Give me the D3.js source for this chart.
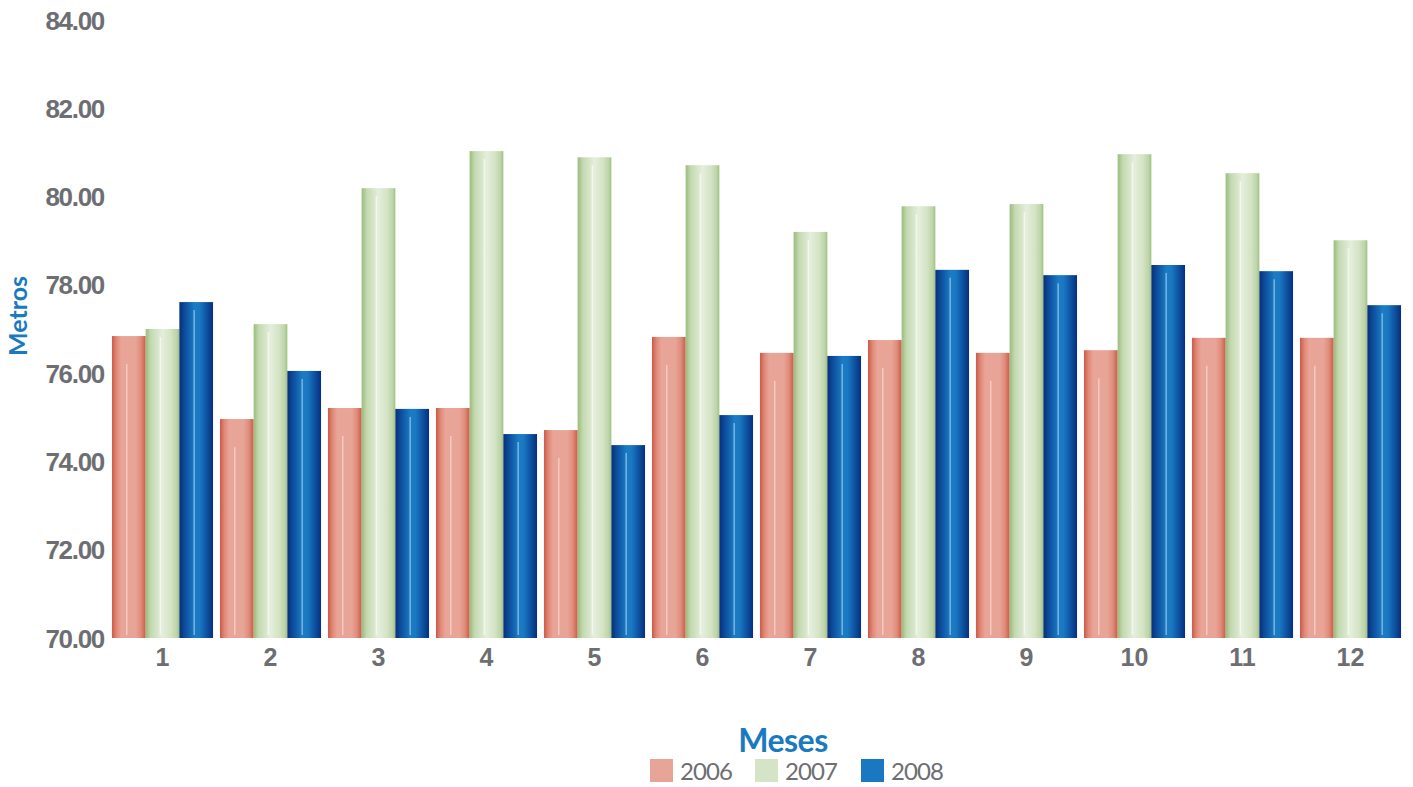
<!DOCTYPE html>
<html>
<head>
<meta charset="utf-8">
<script src="https://cdn.jsdelivr.net/npm/d3@7"></script>
<style>
  html, body { margin: 0; padding: 0; background: #fff; }
  svg { display: block; font-family: Lato, "Open Sans", sans-serif; }
</style>
</head>
<body>
<svg id="chart" width="1413" height="787"></svg>
<script>
const months = ["1","2","3","4","5","6","7","8","9","10","11","12"];
const seriesNames = ["2006","2007","2008"];
const values2006 = [76.84, 74.96, 75.21, 75.21, 74.71, 76.82, 76.46, 76.75, 76.46, 76.52, 76.80, 76.80];
const values2007 = [77.00, 77.11, 80.19, 81.03, 80.89, 80.71, 79.20, 79.78, 79.83, 80.96, 80.53, 79.01];
const values2008 = [77.61, 76.05, 75.19, 74.62, 74.37, 75.05, 76.39, 78.34, 78.22, 78.45, 78.31, 77.54];
const yTicks = [70, 72, 74, 76, 78, 80, 82, 84];

const seriesValues = [values2006, values2007, values2008];
const legendColors = ["#e8a597", "#d5e4c6", "#1a78c2"];
const gradStops = [
  [["0%","#cc5a46"],["14%","#e08a79"],["28%","#e8a597"],["70%","#e8a597"],["86%","#de8c7b"],["100%","#cb5b47"]],
  [["0%","#99bb7b"],["15%","#c3d9b0"],["35%","#d6e5c8"],["50%","#e4eedb"],["75%","#d4e3c5"],["92%","#bcd4a6"],["100%","#9fbf83"]],
  [["0%","#07307c"],["18%","#0e4f9f"],["45%","#1a7cc4"],["60%","#1a78c2"],["85%","#0c4b9b"],["100%","#062f7b"]]
];

const svg = d3.select("#chart");
const defs = svg.append("defs");
gradStops.forEach((stops, i) => {
  const g = defs.append("linearGradient").attr("id", "g" + i)
    .attr("x1", "0%").attr("x2", "100%").attr("y1", "0%").attr("y2", "0%");
  stops.forEach(s => g.append("stop").attr("offset", s[0]).attr("stop-color", s[1]));
});

const x0 = d3.scaleBand().domain(months).range([108.5, 1404.5]).paddingInner(0.064).paddingOuter(0.032);
const x1 = d3.scaleBand().domain(seriesNames).range([0, x0.bandwidth()]);
const y = d3.scaleLinear().domain([70, 84]).range([638, 20]);

const gray = "#6d6e71";

// Y axis labels
const yAxis = d3.axisLeft(y).tickValues(yTicks).tickFormat(d3.format(".2f")).tickSize(0).tickPadding(0);
const yg = svg.append("g").attr("transform", "translate(104,0)").call(yAxis);
yg.select(".domain").remove();
yg.selectAll("text")
  .attr("fill", gray).attr("font-size", 26).attr("font-weight", 700)
  .attr("letter-spacing", -1.3).attr("dy", "0.35em");

// bars
const groups = svg.append("g").selectAll("g").data(months).join("g")
  .attr("transform", d => `translate(${x0(d)},0)`);

groups.each(function(m, mi) {
  const g = d3.select(this);
  seriesNames.forEach((s, si) => {
    const v = seriesValues[si][mi];
    const bx = x1(s), bw = x1.bandwidth();
    const top = y(v), bottom = y(70);
    g.append("rect").attr("x", bx).attr("y", top).attr("width", bw).attr("height", bottom - top)
      .attr("fill", `url(#g${si})`);
    g.append("line")
      .attr("x1", bx + bw * 0.44).attr("x2", bx + bw * 0.44)
      .attr("y1", top + (si === 0 ? 28 : 8)).attr("y2", bottom - 3)
      .attr("stroke", "#ffffff").attr("stroke-opacity", si === 1 ? 0.6 : 0.4).attr("stroke-width", 1.6);
  });
});

// X axis labels
const xAxis = d3.axisBottom(x0).tickSize(0).tickPadding(0);
const xg = svg.append("g").attr("transform", "translate(0,657)").call(xAxis);
xg.select(".domain").remove();
xg.selectAll("text")
  .attr("fill", gray).attr("font-size", 25).attr("font-weight", 700)
  .attr("dy", "0.35em").attr("y", 0);

// axis titles
svg.append("text").attr("x", 783).attr("y", 752).attr("text-anchor", "middle")
  .attr("fill", "#1a7abf").attr("font-size", 32).attr("font-weight", 700)
  .attr("letter-spacing", -0.5).text("Meses");
svg.append("text").attr("transform", "translate(27,316) rotate(-90)").attr("text-anchor", "middle")
  .attr("fill", "#1a7abf").attr("font-size", 25).attr("font-weight", 700).text("Metros");

// legend
const legendX = [650, 755, 861];
const lg = svg.append("g");
seriesNames.forEach((s, i) => {
  lg.append("rect").attr("x", legendX[i]).attr("y", 759).attr("width", 23).attr("height", 23)
    .attr("fill", legendColors[i]);
  lg.append("text").attr("x", legendX[i] + 30).attr("y", 780)
    .attr("fill", gray).attr("font-size", 24).attr("letter-spacing", -0.9).text(s);
});
</script>
</body>
</html>
